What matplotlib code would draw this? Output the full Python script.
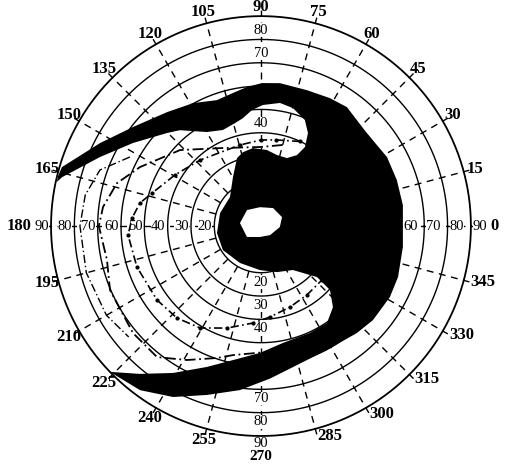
import numpy as np
import matplotlib.pyplot as plt

plt.rcParams['font.family'] = ['Liberation Serif', 'DejaVu Serif']

# chart grid
ring_degrees = [20, 30, 40, 50, 60, 70, 80, 90]
meridians = list(range(0, 360, 15))
# ring numbers that can be read on each main meridian
ring_labels = {
    0: [60, 70, 80, 90],
    90: [40, 70, 80],
    180: [20, 30, 40, 50, 60, 70, 80, 90],
    270: [20, 30, 40, 70, 80, 90],
}

# black defect: outline (meridian deg, eccentricity deg)
defect_theta = [166.2, 163.5, 152.7, 142.3, 129.5, 118.9, 109.3, 101.9, 95.8, 89.6,
                82.4, 71.3, 61.7, 54.1, 41.3, 28.7, 18.7, 8.4, -8.4, -20.4,
                -28.8, -40.0, -48.1, -62.0, -77.2, -86.6, -97.3, -107.7, -117.2, -126.4,
                -136.0, -129.3, -120.9, -111.0, -101.8, -90.5, -79.4, -65.4, -55.8, -48.4,
                -42.8, -42.3, -54.0, -70.8, -91.3, -119.6, -147.7, -171.0, -197.6, -223.1,
                -240.3, -250.6, -256.3, -264.1, -274.5, -282.7, -290.9, -296.9, -299.1, -296.8,
                -292.5, -285.2, -278.8, -270.9, -265.6, -260.5, -255.8, -248.4, -240.1, -229.8,
                -224.7, -213.0, -203.2, -193.8, -192.2]
defect_ecc = [89.6, 89.0, 77.6, 69.4, 63.3, 60.2, 57.2, 58.3, 59.9, 61.3,
              61.8, 61.5, 62.3, 62.9, 60.4, 61.6, 61.5, 61.5, 61.5, 62.7,
              63.1, 62.7, 61.6, 60.2, 62.0, 65.5, 70.9, 76.0, 82.4, 87.4,
              90.0, 81.9, 73.4, 64.7, 58.7, 54.4, 51.0, 50.4, 50.3, 46.5,
              40.3, 32.5, 23.3, 20.9, 18.9, 18.2, 19.3, 19.1, 18.4, 18.2,
              24.2, 30.9, 32.6, 33.6, 32.7, 31.2, 31.2, 34.1, 38.8, 44.7,
              49.2, 52.4, 53.4, 51.9, 49.9, 46.9, 45.5, 44.3, 46.5, 53.8,
              56.7, 65.4, 75.1, 87.8, 89.5]

# white central island
island_theta = [93, 56, 23, 357, 315, 265, 218, 172, 131]
island_ecc = [8.1, 9.3, 9.8, 8.1, 5.5, 4.7, 7.6, 9.1, 9.1]

# isopters
iso_a_theta = [65, 80, 90, 104.5, 132.7, 149.3, 163.2, 169.2, 176.5, 183.9, 198.3,
               215.4, 227.6, 239.1, 251.6, 265.3, 275.6, 289.7, 303.7, 318.5]
iso_a_ecc = [40, 37.5, 36.9, 35.9, 38.5, 42.9, 48.8, 52.8, 55.4, 57.1, 56.0,
             54.7, 53.4, 50.9, 46.1, 41.7, 39.2, 36.9, 35.5, 34.9]
iso_b_theta = [75, 90, 115.9, 136.8, 140.3, 154, 163.4, 173.1, 180, 192.4, 203.0,
               219.9, 231.6, 241.1, 251.6, 257.8, 275]
iso_b_ecc = [36, 33.9, 37.2, 47.6, 49.0, 57.7, 64.4, 68.2, 69.5, 67.6, 70.3,
             71.5, 71.7, 65.6, 59.6, 56.6, 54.0]
iso_c_theta = [152.2, 160.8, 170, 180, 195, 210, 220]
iso_c_ecc = [63.5, 73.1, 76.5, 77.6, 77.5, 76.5, 74.0]

fig = plt.figure(figsize=(5.09, 4.66), dpi=100)
ax = fig.add_axes([0.1002, 0.0644, 0.825, 0.901], projection='polar')
ax.set_ylim(0, 90)
ax.set_axis_off()

full = np.linspace(0, 2 * np.pi, 721)
for rd in ring_degrees:
    ax.plot(full, np.full_like(full, rd), color='black',
            lw=1.3 if rd == 90 else 1.0, zorder=1, clip_on=False)

for m in meridians:
    t = np.radians(m)
    ax.plot([t, t], [20, 92.5], color='black', lw=1.0, ls=(0, (5, 4)),
            zorder=1, clip_on=False)

# ring numbers along the four main meridians
for m, rings in ring_labels.items():
    t = np.radians(m)
    for rd in rings:
        r = rd + 3.3 if (m == 270 and rd == 90) else rd + 4
        ax.text(t, r, str(rd), fontsize=10.5, ha='center', va='center',
                zorder=2, bbox=dict(fc='white', ec='none', pad=0.1))

# meridian numbers
for m in meridians:
    t = np.radians(m)
    if m == 90:
        ax.text(t, 94, '90', fontsize=12, fontweight='bold',
                ha='center', va='center')
    elif m == 0:
        ax.text(t, 100, '0', fontsize=12, fontweight='bold',
                ha='center', va='center')
    elif m == 180:
        ax.text(t, 103.5, '180', fontsize=12, fontweight='bold',
                ha='center', va='center')
    elif m == 270:
        ax.text(t, 98.8, '270', fontsize=11, fontweight='bold',
                ha='center', va='center')
    elif 280 < m < 360:
        ax.text(t, 93, str(m), fontsize=12, fontweight='bold',
                ha='left', va='center')
    else:
        ax.text(t, 95, str(m), fontsize=12, fontweight='bold',
                ha='center', va='center')

ax.plot(np.radians(iso_c_theta), iso_c_ecc, color='black', lw=1.0,
        ls=(0, (6, 2, 1, 2)), zorder=2)
ax.plot(np.radians(iso_b_theta), iso_b_ecc, color='black', lw=1.3,
        ls=(0, (6, 2, 1, 2)), zorder=2)
ax.plot(np.radians(iso_a_theta), iso_a_ecc, color='black', lw=1.2,
        ls=(0, (5, 2, 1, 2)), marker='.', ms=4, zorder=2)

ax.fill(np.radians(defect_theta), defect_ecc, color='black', lw=0, zorder=3)
ax.fill(np.radians(island_theta), island_ecc, color='white', lw=0, zorder=4)

fig.savefig('out.png', dpi=100)
